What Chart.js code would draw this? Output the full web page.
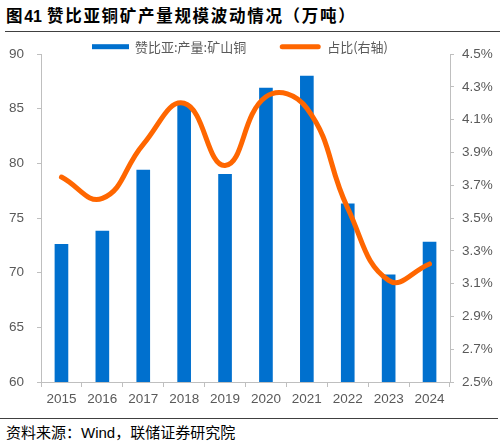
<!DOCTYPE html>
<html>
<head>
<meta charset="utf-8">
<script src="https://cdn.jsdelivr.net/npm/chart.js@4"></script>
<style>
  body { margin: 0; background: #fff; width: 504px; height: 442px; position: relative; overflow: hidden;
         font-family: "Liberation Sans", "Noto Sans CJK SC", sans-serif; }
  #title { position: absolute; left: 6px; top: 3px; font-size: 16.5px; font-weight: bold; color: #000;
           letter-spacing: 1.7px; white-space: nowrap; font-family: "Noto Sans CJK SC", sans-serif; }
  #title .num { font-family: "Liberation Sans", sans-serif; font-size: 16px; letter-spacing: 0; margin-right: 5px; }
  #topline { position: absolute; left: 5px; top: 31px; width: 495px; height: 1px; background: #404040; }
  #wrap { position: absolute; left: 0; top: 33px; width: 504px; height: 380px; }
  #botline { position: absolute; left: 0; top: 418px; width: 498px; height: 1px; background: #404040; }
  #source { position: absolute; left: 6px; top: 421px; font-size: 15px; color: #000; white-space: nowrap;
            font-family: "Liberation Sans", "Noto Sans CJK SC", sans-serif; }
</style>
</head>
<body>
<div id="title">图<span class="num">41</span>赞比亚铜矿产量规模波动情况（万吨）</div>
<div id="topline"></div>
<div id="wrap"><canvas id="myChart"></canvas></div>
<div id="botline"></div>
<div id="source">资料来源：Wind，联储证券研究院</div>
<script>
  const years = ["2015", "2016", "2017", "2018", "2019", "2020", "2021", "2022", "2023", "2024"];
  const output = [72.6, 73.8, 79.4, 85.4, 79.0, 86.9, 88.0, 76.3, 69.8, 72.8];
  const share = [3.75, 3.62, 3.95, 4.20, 3.82, 4.24, 4.17, 3.56, 3.12, 3.22];
  const barName = "赞比亚:产量:矿山铜";
  const lineName = "占比(右轴)";

  const gray = "#595959";
  const axisGray = "#bfbfbf";
  const tickFont = { family: "Liberation Sans", size: 13.5 };

  // legend drawn by hand so it can sit just above the plot top like the original
  const topLegend = {
    id: "topLegend",
    afterDraw: function (chart) {
      const c = chart.ctx;
      const bar = chart.data.datasets[1];
      const line = chart.data.datasets[0];
      const y = 13.7;
      c.save();
      c.font = "13px 'Noto Sans CJK SC'";
      c.textBaseline = "middle";
      let x = 92;
      c.fillStyle = bar.backgroundColor;
      c.fillRect(x, y - 2.5, 37, 5);
      c.fillStyle = gray;
      c.fillText(bar.label, x + 43, y);
      x = x + 43 + c.measureText(bar.label).width + 34;
      c.strokeStyle = line.borderColor;
      c.lineWidth = 5;
      c.lineCap = "round";
      c.beginPath();
      c.moveTo(x + 2, y);
      c.lineTo(x + 38, y);
      c.stroke();
      c.fillText(line.label, x + 47, y);
      c.restore();
    },
  };

  const ctx = document.getElementById("myChart").getContext("2d");
  new Chart(ctx, {
    data: {
      labels: years,
      datasets: [
        {
          type: "line",
          label: lineName,
          data: share,
          yAxisID: "y1",
          borderColor: "#ff6600",
          backgroundColor: "#ff6600",
          borderWidth: 5,
          borderCapStyle: "round",
          tension: 0.45,
          pointRadius: 0,
          order: 0,
        },
        {
          type: "bar",
          label: barName,
          data: output,
          yAxisID: "y",
          backgroundColor: "#0070ce",
          barThickness: 13,
          order: 1,
        },
      ],
    },
    plugins: [topLegend],
    options: {
      responsive: true,
      maintainAspectRatio: false,
      animation: false,
      layout: { padding: { top: 18, left: 0, right: 0, bottom: 0 } },
      plugins: {
        tooltip: { enabled: false },
        legend: { display: false },
      },
      scales: {
        x: {
          grid: { display: true, drawOnChartArea: false, color: axisGray, tickLength: 5, offset: true },
          border: { color: axisGray },
          ticks: { color: gray, font: tickFont, padding: 4 },
          afterFit: function (scale) { scale.height = 31; },
        },
        y: {
          position: "left",
          min: 60,
          max: 90,
          grid: { display: true, drawOnChartArea: false, color: axisGray, tickLength: 4 },
          border: { color: axisGray },
          ticks: { stepSize: 5, color: gray, font: tickFont, padding: 13 },
          afterFit: function (scale) { scale.width = 41; },
        },
        y1: {
          position: "right",
          min: 2.5,
          max: 4.5,
          grid: { display: true, drawOnChartArea: false, color: axisGray, tickLength: 4 },
          border: { color: axisGray },
          ticks: {
            stepSize: 0.2,
            color: gray,
            font: tickFont,
            padding: 8,
            callback: function (v) { return v.toFixed(1) + "%"; },
          },
          afterFit: function (scale) { scale.width = 54; },
        },
      },
    },
  });
</script>
</body>
</html>
